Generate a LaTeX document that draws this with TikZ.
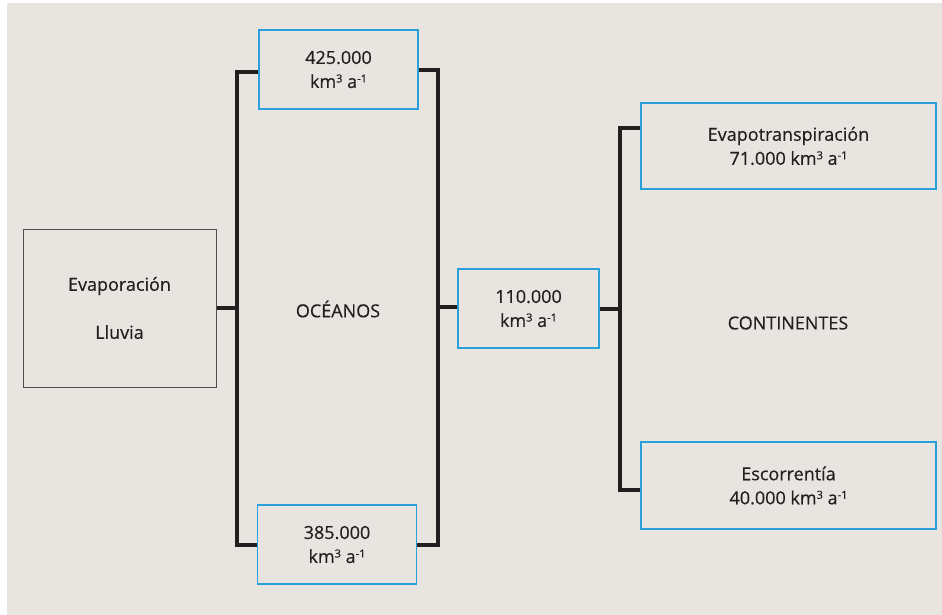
\documentclass[tikz,border=0pt]{standalone}
\usepackage{fontspec}
\setmainfont{Open Sans}[UprightFeatures={FakeBold=0.35}]
\usepackage{tikz}
\definecolor{fondo}{RGB}{232,228,223}
\definecolor{azul}{RGB}{40,160,218}
\definecolor{tinta}{RGB}{35,31,32}
\newcommand{\sups}[1]{\raisebox{5.5pt}{\fontsize{11}{11}\selectfont#1}}
\newcommand{\flujo}{km\sups{3} a\sups{-1}}

\begin{document}
\begin{tikzpicture}[x=1pt,y=-1pt,
    every node/.style={font=\fontsize{18}{24}\selectfont, text=tinta, align=center},
    caja/.style={draw=azul, line width=1.3pt, inner sep=0pt},
    bar/.style={draw=tinta, line width=3.6pt}]
  \useasboundingbox (0,0) rectangle (942,615);
  \fill[fondo] (7,3) rectangle (942,615);
  % cajas
  \node[draw=tinta!80, line width=1pt, minimum width=193pt, minimum height=158pt] at (119.5,308) (evap){Evaporación\\[24pt]Lluvia};
  \node[caja, minimum width=159pt, minimum height=79pt] at (338.5,69.5) (arriba){425.000\\\flujo};
  \node[caja, minimum width=159pt, minimum height=79pt] at (337,544.5) (abajo){385.000\\\flujo};
  \node[caja, minimum width=141pt, minimum height=79pt] at (528.5,308.5) (medio){110.000\\\flujo};
  \node[caja, minimum width=295pt, minimum height=86pt] at (788.5,146) (evt){Evapotranspiración\\71.000 \flujo};
  \node[caja, minimum width=295pt, minimum height=87pt] at (788.5,485.5) (esc){Escorrentía\\40.000 \flujo};
  \node at (338,309) (oce){OCÉANOS};
  \node at (788,323) (cont){CONTINENTES};
  % esquinas de las llaves
  \coordinate (ia) at (237,72);
  \coordinate (ib) at (237,545);
  \coordinate (da) at (438,70);
  \coordinate (db) at (438,545);
  \coordinate (ca) at (620,128);
  \coordinate (cb) at (620,490);
  % llaves
  \draw[bar] (arriba.west |- ia) -- (ia) -- (ib) -- (abajo.west |- ib);
  \draw[bar] (evap.east) -- (evap.east -| ia);
  \draw[bar] (arriba.east |- da) -- (da) -- (db) -- (abajo.east |- db);
  \draw[bar] (medio.west |- 0,307) -- (da |- 0,307);
  \draw[bar] (evt.west |- ca) -- (ca) -- (cb) -- (esc.west |- cb);
  \draw[bar] (medio.east |- 0,309) -- (ca |- 0,309);
\end{tikzpicture}
\end{document}
